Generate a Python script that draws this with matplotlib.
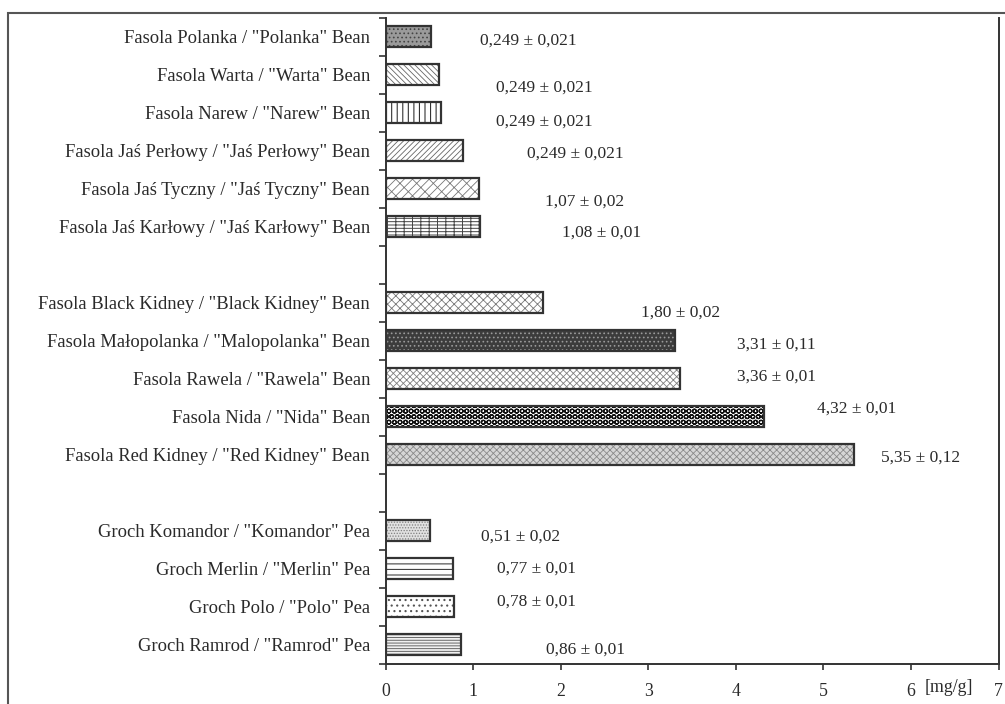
import matplotlib
matplotlib.use("Agg")
import matplotlib.pyplot as plt
from matplotlib.patches import Rectangle
from matplotlib.transforms import blended_transform_factory

plt.rcParams["font.family"] = ["Liberation Serif", "DejaVu Serif"]
plt.rcParams["hatch.linewidth"] = 0.7

# Varieties from top to bottom; None marks an empty spacer row between groups
varieties = [
    'Fasola Polanka / "Polanka" Bean',
    'Fasola Warta / "Warta" Bean',
    'Fasola Narew / "Narew" Bean',
    'Fasola Jaś Perłowy / "Jaś Perłowy" Bean',
    'Fasola Jaś Tyczny / "Jaś Tyczny" Bean',
    'Fasola Jaś Karłowy / "Jaś Karłowy" Bean',
    None,
    'Fasola Black Kidney / "Black Kidney" Bean',
    'Fasola Małopolanka / "Malopolanka" Bean',
    'Fasola Rawela / "Rawela" Bean',
    'Fasola Nida / "Nida" Bean',
    'Fasola Red Kidney / "Red Kidney" Bean',
    None,
    'Groch Komandor / "Komandor" Pea',
    'Groch Merlin / "Merlin" Pea',
    'Groch Polo / "Polo" Pea',
    'Groch Ramrod / "Ramrod" Pea',
]

# Bar lengths [mg/g]
content = [0.52, 0.61, 0.63, 0.88, 1.07, 1.08, None,
           1.80, 3.31, 3.36, 4.32, 5.35, None,
           0.51, 0.77, 0.78, 0.86]

# Printed annotations (mean ± SD)
annotations = ["0,249 ± 0,021", "0,249 ± 0,021", "0,249 ± 0,021", "0,249 ± 0,021",
               "1,07 ± 0,02", "1,08 ± 0,01", None,
               "1,80 ± 0,02", "3,31 ± 0,11", "3,36 ± 0,01", "4,32 ± 0,01", "5,35 ± 0,12", None,
               "0,51 ± 0,02", "0,77 ± 0,01", "0,78 ± 0,01", "0,86 ± 0,01"]

x_ticks = [0, 1, 2, 3, 4, 5, 6, 7]
unit = "[mg/g]"

# Where each annotation sits: (x in mg/g, row offset from the bar centre)
note_pos = [(1.08, 0.11), (1.26, 0.355), (1.26, 0.24), (1.62, 0.07),
            (1.82, 0.35), (2.02, 0.17), None,
            (2.92, 0.28), (4.01, 0.12), (4.01, -0.04), (4.93, -0.20), (5.66, 0.07), None,
            (1.09, 0.17), (1.27, 0.01), (1.27, -0.13), (1.83, 0.14)]

# Fill styles: (face colour, hatch, hatch colour, hatch line width)
styles = [("#9a9a9a", "....", "#444444", 0.7),
          ("white", "\\\\\\\\\\\\", "#666666", 0.6),
          ("white", "|||", "#333333", 0.8),
          ("white", "//////", "#666666", 0.6),
          ("white", "////\\\\", "#777777", 0.6),
          ("white", "---++", "#444444", 0.7),
          None,
          ("white", "xxxx", "#777777", 0.6),
          ("#3c3c3c", "....", "#9a9a9a", 0.7),
          ("white", "xxxxx", "#808080", 0.6),
          ("white", "OOO", "#111111", 0.9),
          ("#d6d6d6", "xxxxx", "#8a8a8a", 0.6),
          None,
          ("#e0e0e0", "......", "#808080", 0.6),
          ("white", "---", "#444444", 0.8),
          ("white", "...", "#555555", 0.8),
          ("#f0f0f0", "------", "#666666", 0.7)]

text_color = "#2a2a2a"
edge_color = "#333333"

fig = plt.figure(figsize=(10.05, 7.04), dpi=100)
ax = fig.add_axes([385.5 / 1005, 40.5 / 704, 613 / 1005, 646 / 704])

bar_h = 0.55
for i, (val, sty) in enumerate(zip(content, styles)):
    if val is None:
        continue
    face, hatch, hcol, hlw = sty
    with plt.rc_context({"hatch.linewidth": hlw}):
        ax.barh(i, val, height=bar_h, color=face, edgecolor=hcol, hatch=hatch,
                linewidth=0, zorder=2)
    ax.barh(i, val, height=bar_h, fill=False, edgecolor=edge_color,
            linewidth=1.6, zorder=3)

for i, (txt, pos) in enumerate(zip(annotations, note_pos)):
    if txt is None:
        continue
    ax.text(pos[0], i + pos[1], txt, ha="left", va="center",
            fontsize=12.5, color=text_color)

ax.set_xlim(0, 7)
ax.set_ylim(len(varieties) - 0.5, -0.5)

label_rows = [i for i, v in enumerate(varieties) if v is not None]
ax.set_yticks(label_rows)
ax.set_yticklabels([varieties[i] for i in label_rows], fontsize=13.4, color=text_color)
ax.set_yticks([r - 0.5 for r in range(len(varieties) + 1)], minor=True)
ax.tick_params(axis="y", which="major", length=0, pad=11)
ax.tick_params(axis="y", which="minor", length=5, width=1.2, direction="out",
               color=edge_color)

ax.set_xticks(x_ticks)
ax.set_xticklabels([str(t) for t in x_ticks], fontsize=12.8, color=text_color)
ax.tick_params(axis="x", length=4, width=1.2, direction="out", pad=10,
               color=edge_color)

trans = blended_transform_factory(ax.transData, ax.transAxes)
ax.text(6.16, -24.5 / 646, unit, transform=trans, ha="left", va="center",
        fontsize=12.8, color=text_color)

for side in ("left", "bottom", "right"):
    ax.spines[side].set_color(edge_color)
    ax.spines[side].set_linewidth(1.4)
ax.spines["top"].set_visible(False)

# Outer frame around the figure
fig.add_artist(Rectangle((8 / 1005, -0.2), 1.2, 1.2 - 13 / 704,
                         transform=fig.transFigure, fill=False,
                         edgecolor="#555555", linewidth=1.5))

fig.savefig("out.png", dpi=100)
